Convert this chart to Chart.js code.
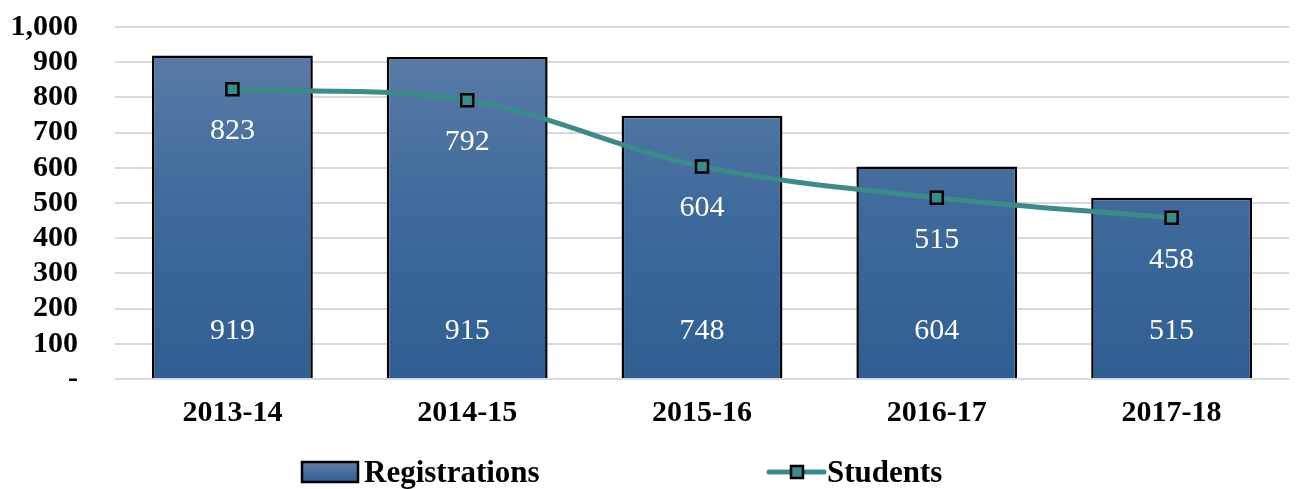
<!DOCTYPE html>
<html>
<head>
<meta charset="utf-8">
<script src="https://cdn.jsdelivr.net/npm/chart.js@4/dist/chart.umd.min.js"></script>
<style>
  html, body { margin: 0; padding: 0; background: #fff; }
  #wrap { width: 1300px; height: 489px; position: relative; }
</style>
</head>
<body>
<div id="wrap"><canvas id="myChart" width="1300" height="489"></canvas></div>
<script>
'use strict';
let years = ['2013-14', '2014-15', '2015-16', '2016-17', '2017-18'];
let registrations = [919, 915, 748, 604, 515];
let students = [823, 792, 604, 515, 458];
let yTicks = [0, 100, 200, 300, 400, 500, 600, 700, 800, 900, 1000];

let serif = '"Liberation Serif", "DejaVu Serif", serif';
let teal = '#3a8b8a';

let ctx = document.getElementById('myChart').getContext('2d');

function barGradient(context) {
  let chart = context.chart;
  let area = chart.chartArea;
  if (!area) return '#3d6797';
  let g = chart.ctx.createLinearGradient(0, area.top, 0, area.bottom);
  g.addColorStop(0, '#5e7ea8');
  g.addColorStop(0.5, '#3f6b9c');
  g.addColorStop(1, '#2f5e92');
  return g;
}

// white value labels inside the bars
let valueLabels = {
  id: 'valueLabels',
  afterDatasetsDraw(chart) {
    let c = chart.ctx;
    c.save();
    c.fillStyle = '#fff';
    c.font = '30px ' + serif;
    c.textAlign = 'center';
    c.textBaseline = 'middle';
    let yScale = chart.scales.y;
    chart.getDatasetMeta(1).data.forEach((bar, i) => {
      c.fillText(registrations[i].toLocaleString('en-US'), bar.x, yScale.bottom - 48);
    });
    chart.getDatasetMeta(0).data.forEach((pt, i) => {
      c.fillText(students[i].toLocaleString('en-US'), pt.x, pt.y + 42);
    });
    c.restore();
  }
};

// legend along the bottom
let bottomLegend = {
  id: 'bottomLegend',
  afterDraw(chart) {
    let c = chart.ctx;
    let y = 472;
    c.save();
    c.font = 'bold 31px ' + serif;
    c.textBaseline = 'middle';
    c.textAlign = 'left';
    // Registrations swatch
    let g = c.createLinearGradient(0, y - 10, 0, y + 10);
    g.addColorStop(0, '#5e7ea8');
    g.addColorStop(1, '#2f5e92');
    c.fillStyle = g;
    c.fillRect(302, y - 10, 56, 20);
    c.strokeStyle = '#000';
    c.lineWidth = 2.5;
    c.strokeRect(302, y - 10, 56, 20);
    c.fillStyle = '#000';
    c.fillText('Registrations', 364, y + 2);
    // Students line + marker
    c.strokeStyle = teal;
    c.lineWidth = 5;
    c.lineCap = 'round';
    c.beginPath();
    c.moveTo(769, y);
    c.lineTo(824, y);
    c.stroke();
    c.fillStyle = teal;
    c.fillRect(791, y - 6, 12, 12);
    c.lineWidth = 2.5;
    c.strokeStyle = '#000';
    c.strokeRect(791, y - 6, 12, 12);
    c.fillStyle = '#000';
    c.fillText('Students', 827, y + 2);
    c.restore();
  }
};

let myChart = new Chart(ctx, {
  type: 'bar',
  data: {
    labels: years,
    datasets: [{
      type: 'line',
      label: 'Students',
      data: students,
      borderColor: teal,
      backgroundColor: teal,
      borderWidth: 5,
      tension: 0.35,
      pointStyle: 'rect',
      pointRadius: 8.5,
      pointBorderColor: '#000',
      pointBackgroundColor: teal,
      pointBorderWidth: 2.5,
      order: 0
    }, {
      type: 'bar',
      label: 'Registrations',
      data: registrations,
      backgroundColor: barGradient,
      borderColor: '#000',
      borderWidth: 2.5,
      categoryPercentage: 0.685,
      barPercentage: 1,
      order: 1
    }]
  },
  options: {
    responsive: false,
    animation: false,
    layout: { padding: { left: 0, right: 10, top: 27, bottom: 55 } },
    plugins: {
      legend: { display: false },
      tooltip: { enabled: false }
    },
    scales: {
      x: {
        grid: { display: false, drawTicks: false },
        border: { display: false },
        ticks: {
          color: '#000',
          padding: 16,
          font: { family: serif, size: 30, weight: 'bold' }
        },
        afterFit(scale) { scale.height = 55; }
      },
      y: {
        min: 0,
        max: 1000,
        afterBuildTicks(scale) { scale.ticks = yTicks.map(v => ({ value: v })); },
        grid: { color: '#d9d9d9', lineWidth: 2, drawTicks: false },
        border: { display: false },
        ticks: {
          color: '#000',
          padding: 37,
          autoSkip: false,
          font: { family: serif, size: 30, weight: 'bold' },
          callback: v => v === 0 ? '-' : v.toLocaleString('en-US')
        },
        afterFit(scale) {
          scale.width = 115;
          scale.paddingTop = 0;
          scale.paddingBottom = 0;
        }
      }
    }
  },
  plugins: [valueLabels, bottomLegend]
});
</script>
</body>
</html>
